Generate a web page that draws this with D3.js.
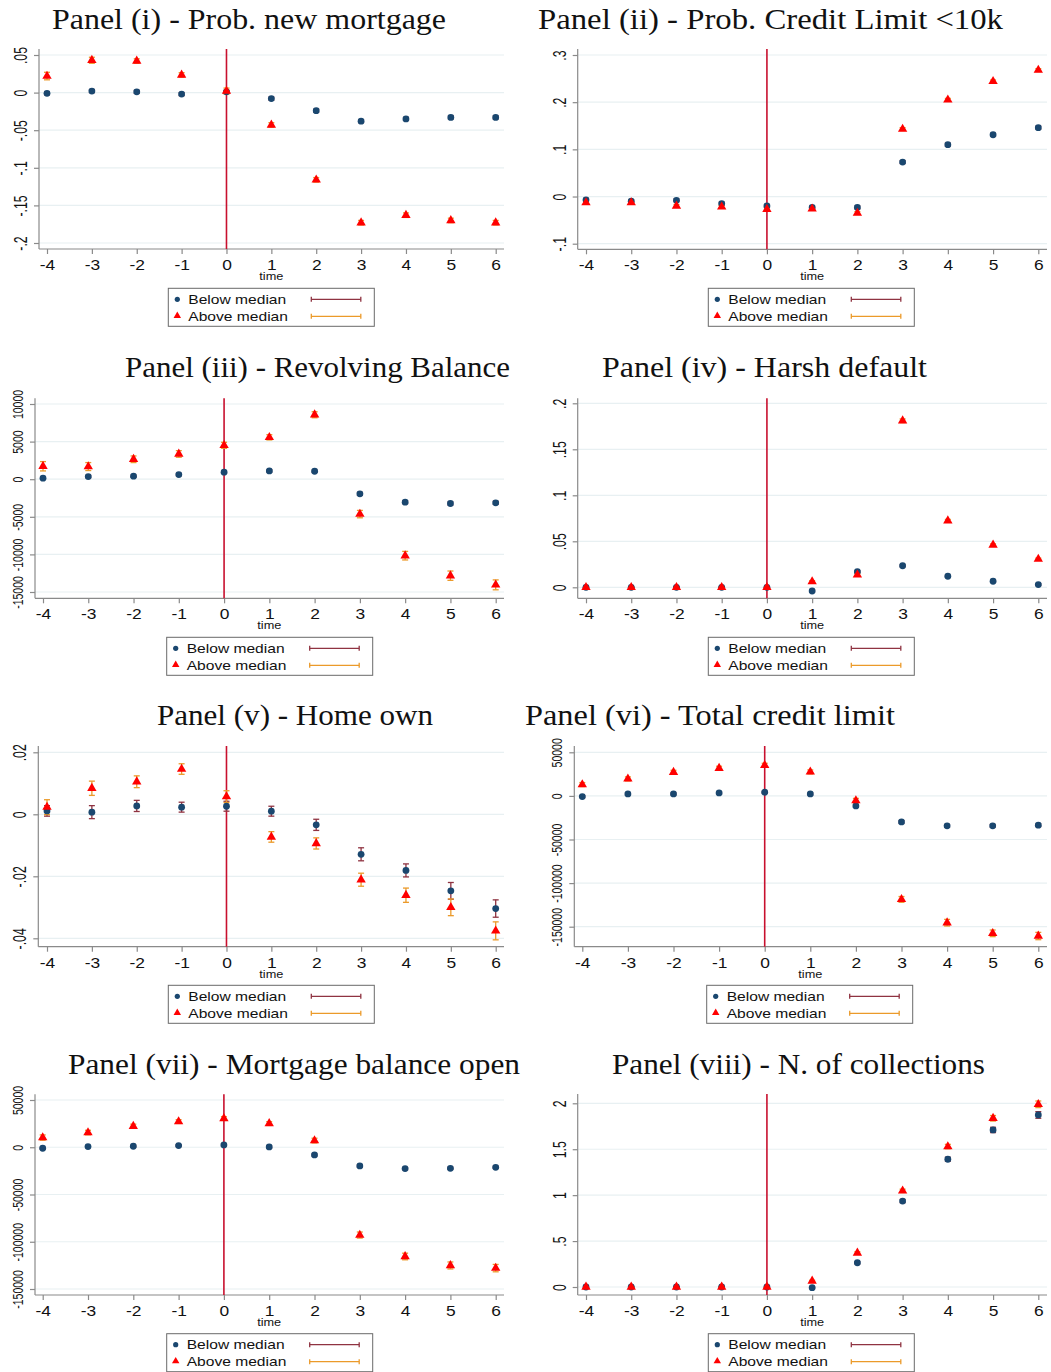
<!DOCTYPE html>
<html><head><meta charset="utf-8">
<script src="https://cdn.jsdelivr.net/npm/d3@7"></script>
<style>body{margin:0;background:#fff}svg{display:block}</style>
</head><body>
<svg id="chart" width="1051" height="1372"></svg>
<script>
// ---------------- DATA ----------------
const time = [-4,-3,-2,-1,0,1,2,3,4,5,6];
const seriesNames = ["Below median","Above median"];
const panelTitles = [
  "Panel (i) - Prob. new mortgage",
  "Panel (ii) - Prob. Credit Limit <10k",
  "Panel (iii) - Revolving Balance",
  "Panel (iv) - Harsh default",
  "Panel (v) - Home own",
  "Panel (vi) - Total credit limit",
  "Panel (vii) - Mortgage balance open",
  "Panel (viii) - N. of collections"
];
const xLabel = "time";

// Panel (i)
const p1Ticks = [-0.2,-0.15,-0.1,-0.05,0,0.05];
const p1TickLabels = ["-.2","-.15","-.1","-.05","0",".05"];
const p1Below   = [-0.001,0.002,0.001,-0.002,0.001,-0.008,-0.024,-0.038,-0.035,-0.033,-0.033];
const p1BelowCI = [0.002,0.002,0.002,0.002,0.002,0.002,0.002,0.002,0.002,0.002,0.002];
const p1Above   = [0.022,0.043,0.042,0.0235,0.002,-0.043,-0.116,-0.173,-0.163,-0.170,-0.173];
const p1AboveCI = [0.005,0.004,0.003,0.003,0.004,0.003,0.003,0.003,0.003,0.003,0.003];

// Panel (ii)
const p2Ticks = [-0.1,0,0.1,0.2,0.3];
const p2TickLabels = ["-.1","0",".1",".2",".3"];
const p2Below   = [-0.007,-0.010,-0.008,-0.015,-0.020,-0.023,-0.023,0.073,0.110,0.131,0.146];
const p2BelowCI = [0.003,0.003,0.003,0.003,0.003,0.003,0.003,0.003,0.003,0.003,0.003];
const p2Above   = [-0.013,-0.013,-0.020,-0.022,-0.027,-0.026,-0.035,0.143,0.205,0.244,0.268];
const p2AboveCI = [0.003,0.003,0.003,0.003,0.003,0.003,0.003,0.003,0.003,0.003,0.003];

// Panel (iii)
const p3Ticks = [-15000,-10000,-5000,0,5000,10000];
const p3TickLabels = ["-15000","-10000","-5000","0","5000","10000"];
const p3Below   = [130,350,400,620,930,1100,1060,-1950,-3050,-3230,-3140];
const p3BelowCI = [150,150,150,150,150,150,150,200,200,200,200];
const p3Above   = [1720,1680,2650,3360,4510,5570,8570,-4640,-10170,-12830,-14050];
const p3AboveCI = [620,530,440,440,400,350,400,490,570,620,660];

// Panel (iv)
const p4Ticks = [0,0.05,0.1,0.15,0.2];
const p4TickLabels = ["0",".05",".1",".15",".2"];
const p4Below   = [0,0,0,0,0,-0.004,0.017,0.0234,0.012,0.0066,0.003];
const p4BelowCI = [0.0005,0.0005,0.0005,0.0005,0.0005,0.001,0.001,0.001,0.001,0.001,0.001];
const p4Above   = [0,0,0,0,0,0.0062,0.0135,0.181,0.0723,0.046,0.0307];
const p4AboveCI = [0.0005,0.0005,0.0005,0.0005,0.0005,0.001,0.0012,0.002,0.0015,0.0012,0.001];

// Panel (v)
const p5Ticks = [-0.04,-0.02,0,0.02];
const p5TickLabels = ["-.04","-.02","0",".02"];
const p5Below   = [0.0011,0.0007,0.0027,0.0023,0.0026,0.0010,-0.0034,-0.0129,-0.0181,-0.0247,-0.0304];
const p5BelowCI = [0.0017,0.0021,0.0018,0.0016,0.0016,0.0016,0.0018,0.0021,0.0021,0.0027,0.0028];
const p5Above   = [0.0023,0.0084,0.0105,0.0146,0.0057,-0.0073,-0.0094,-0.0211,-0.0261,-0.0300,-0.0376];
const p5AboveCI = [0.0024,0.0023,0.0019,0.0017,0.0019,0.0017,0.0018,0.0021,0.0023,0.0027,0.0029];

// Panel (vi)
const p6Ticks = [-150000,-100000,-50000,0,50000];
const p6TickLabels = ["-150000","-100000","-50000","0","50000"];
const p6Below   = [-760,2300,2300,3400,4200,2300,-11450,-29800,-34350,-34350,-33600];
const p6BelowCI = [1100,1100,1100,1100,1100,1100,1300,1400,1500,1500,1500];
const p6Above   = [13000,19500,27100,31700,35100,27500,-5350,-118700,-145400,-157600,-160700];
const p6AboveCI = [2300,2300,2300,2300,2300,2300,2500,3300,3800,3800,4200];

// Panel (vii)
const p7Ticks = [-150000,-100000,-50000,0,50000];
const p7TickLabels = ["-150000","-100000","-50000","0","50000"];
const p7Below   = [-1060,700,1060,1770,2470,350,-8130,-19800,-22600,-22260,-21200];
const p7BelowCI = [1000,1000,1000,1000,1000,1000,1000,1100,1200,1200,1200];
const p7Above   = [10250,15550,22260,27200,30400,25100,7070,-92900,-115600,-125100,-127900];
const p7AboveCI = [2800,2400,2200,2000,2000,2000,2500,3200,3500,3700,3900];

// Panel (viii)
const p8Ticks = [0,0.5,1,1.5,2];
const p8TickLabels = ["0",".5","1","1.5","2"];
const p8Below   = [0,0,0,0,0,-0.007,0.264,0.935,1.391,1.710,1.873];
const p8BelowCI = [0.003,0.003,0.003,0.003,0.003,0.006,0.012,0.017,0.022,0.029,0.036];
const p8Above   = [0,0,0,0,0,0.065,0.370,1.047,1.529,1.837,1.989];
const p8AboveCI = [0.003,0.003,0.003,0.003,0.003,0.008,0.014,0.018,0.024,0.030,0.036];

// ---------------- LAYOUT ----------------
// ys: [along-text scale, glyph-height scale] for rotated y tick labels
const layout = [
  {axisX:39,   x0:47,    x1:495.7,  right:504,  t0px:243,   t1px:55,    top:49,    bottom:249,   tcx:249,   tw:394, tb:29,   lx:168.3, ly:288.3, ys:[0.88,1.28]},
  {axisX:577.7,x0:586,   x1:1038.3, right:1047, t0px:243.7, t1px:55,    top:49,    bottom:249.3, tcx:770.5, tw:465, tb:29,   lx:708.3, ly:288.3, ys:[0.88,1.28]},
  {axisX:35,   x0:43,    x1:495.7,  right:504,  t0px:592,   t1px:404,   top:398.3, bottom:598.3, tcx:317.5, tw:385, tb:377,  lx:166.7, ly:637.3, ys:[0.75,1.08]},
  {axisX:577.7,x0:586,   x1:1038.3, right:1047, t0px:587.3, t1px:403.3, top:398.3, bottom:598.3, tcx:764.5, tw:325, tb:377,  lx:708.3, ly:637.3, ys:[0.88,1.28]},
  {axisX:38.3, x0:47,    x1:495.7,  right:504,  t0px:938.3, t1px:752.3, top:746,   bottom:946.7, tcx:295,   tw:276, tb:725,  lx:168.3, ly:985.3, ys:[0.88,1.28]},
  {axisX:574.3,x0:582.3, x1:1038.3, right:1047, t0px:926.7, t1px:752.3, top:746,   bottom:946.7, tcx:710,   tw:370, tb:725,  lx:706.7, ly:985.3, ys:[0.75,1.08]},
  {axisX:35,   x0:42.7,  x1:495.7,  right:504,  t0px:1289,  t1px:1100,  top:1094.3,bottom:1295,  tcx:294,   tw:452, tb:1074, lx:166.7, ly:1333.7, ys:[0.75,1.08]},
  {axisX:577.7,x0:586,   x1:1038.3, right:1047, t0px:1287,  t1px:1103.3,top:1094,  bottom:1295,  tcx:798.5, tw:373, tb:1074, lx:708.3, ly:1333.7, ys:[0.88,1.28]}
];

const panels = [
  {ticks:p1Ticks, labels:p1TickLabels, below:p1Below, belowCI:p1BelowCI, above:p1Above, aboveCI:p1AboveCI},
  {ticks:p2Ticks, labels:p2TickLabels, below:p2Below, belowCI:p2BelowCI, above:p2Above, aboveCI:p2AboveCI},
  {ticks:p3Ticks, labels:p3TickLabels, below:p3Below, belowCI:p3BelowCI, above:p3Above, aboveCI:p3AboveCI},
  {ticks:p4Ticks, labels:p4TickLabels, below:p4Below, belowCI:p4BelowCI, above:p4Above, aboveCI:p4AboveCI},
  {ticks:p5Ticks, labels:p5TickLabels, below:p5Below, belowCI:p5BelowCI, above:p5Above, aboveCI:p5AboveCI},
  {ticks:p6Ticks, labels:p6TickLabels, below:p6Below, belowCI:p6BelowCI, above:p6Above, aboveCI:p6AboveCI},
  {ticks:p7Ticks, labels:p7TickLabels, below:p7Below, belowCI:p7BelowCI, above:p7Above, aboveCI:p7AboveCI},
  {ticks:p8Ticks, labels:p8TickLabels, below:p8Below, belowCI:p8BelowCI, above:p8Above, aboveCI:p8AboveCI}
];

const C = {
  navy:"#1a476f", red:"#ff0000", maroon:"#8f3341", orange:"#eb9a2a",
  vline:"#c8102e", grid:"#e8f0f2", axis:"#8a8a8a", text:"#111"
};
const SANS = "'Liberation Sans', Arial, sans-serif";
const SERIF = "'Liberation Serif', 'Times New Roman', serif";

const svg = d3.select("#chart");
const tri = d3.symbol().type(d3.symbolTriangle).size(38);

panels.forEach((p, k) => {
  const L = layout[k];
  const g = svg.append("g");
  const x = d3.scaleLinear().domain([time[0], time[time.length-1]]).range([L.x0, L.x1]);
  const y = d3.scaleLinear().domain([p.ticks[0], p.ticks[p.ticks.length-1]]).range([L.t0px, L.t1px]);

  // title
  g.append("text").attr("x", L.tcx).attr("y", L.tb).attr("text-anchor","middle")
    .attr("font-family", SERIF).attr("font-size", 29).attr("fill", C.text)
    .attr("textLength", L.tw).attr("lengthAdjust","spacingAndGlyphs")
    .text(panelTitles[k]);

  // grid
  g.append("g").selectAll("line").data(p.ticks).join("line")
    .attr("x1", L.axisX).attr("x2", L.right)
    .attr("y1", d => y(d)).attr("y2", d => y(d))
    .attr("stroke", C.grid).attr("stroke-width", 1.2);

  // axes lines
  g.append("line").attr("x1", L.axisX).attr("x2", L.axisX).attr("y1", L.top).attr("y2", L.bottom)
    .attr("stroke", C.axis).attr("stroke-width", 1.2);
  g.append("line").attr("x1", L.axisX).attr("x2", L.right).attr("y1", L.bottom).attr("y2", L.bottom)
    .attr("stroke", C.axis).attr("stroke-width", 1.2);

  // y axis
  const ya = g.append("g").attr("transform", `translate(${L.axisX},0)`)
    .call(d3.axisLeft(y).tickValues(p.ticks).tickFormat((d,i) => p.labels[i]).tickSize(5).tickSizeOuter(0));
  ya.select(".domain").remove();
  ya.selectAll(".tick line").attr("stroke", C.axis).attr("stroke-width", 1.2);
  ya.selectAll(".tick text")
    .attr("x", null).attr("dy", null).attr("y", null)
    .attr("text-anchor","middle")
    .attr("transform", `translate(-12,0) rotate(-90) scale(${L.ys[0]},${L.ys[1]})`)
    .attr("font-family", SANS).attr("font-size", 14).attr("fill", C.text);

  // x axis
  const xa = g.append("g").attr("transform", `translate(0,${L.bottom})`)
    .call(d3.axisBottom(x).tickValues(time).tickFormat(d3.format("d")).tickSize(5).tickSizeOuter(0));
  xa.select(".domain").remove();
  xa.selectAll(".tick line").attr("stroke", C.axis).attr("stroke-width", 1.2);
  xa.selectAll(".tick text")
    .attr("y", null).attr("dy", null)
    .attr("transform", "translate(0,21) scale(1.2,1)")
    .attr("font-family", SANS).attr("font-size", 14.5).attr("fill", C.text)
    .text(d => d < 0 ? "-" + Math.abs(d) : String(d));

  g.append("text").attr("x", (L.x0 + L.x1)/2).attr("y", L.bottom + 31)
    .attr("text-anchor","middle").attr("font-family", SANS).attr("font-size", 11).attr("fill", C.text)
    .attr("textLength", 24).attr("lengthAdjust","spacingAndGlyphs")
    .text(xLabel);

  // vertical reference line at time 0
  g.append("line").attr("x1", x(0)).attr("x2", x(0)).attr("y1", L.top).attr("y2", L.bottom)
    .attr("stroke", C.vline).attr("stroke-width", 1.6);

  // error bars
  const cap = 3;
  function bars(vals, ci, color) {
    const gb = g.append("g").attr("stroke", color).attr("stroke-width", 1.3).attr("fill","none");
    time.forEach((t, i) => {
      const yl = y(vals[i] - ci[i]), yh = y(vals[i] + ci[i]), cx = x(t);
      gb.append("line").attr("x1", cx).attr("x2", cx).attr("y1", yl).attr("y2", yh);
      gb.append("line").attr("x1", cx-cap).attr("x2", cx+cap).attr("y1", yl).attr("y2", yl);
      gb.append("line").attr("x1", cx-cap).attr("x2", cx+cap).attr("y1", yh).attr("y2", yh);
    });
  }
  bars(p.below, p.belowCI, C.maroon);
  bars(p.above, p.aboveCI, C.orange);

  // markers
  g.append("g").selectAll("circle").data(time).join("circle")
    .attr("cx", d => x(d)).attr("cy", (d,i) => y(p.below[i])).attr("r", 3.4)
    .attr("fill", C.navy);
  g.append("g").selectAll("path").data(time).join("path")
    .attr("d", tri)
    .attr("transform", (d,i) => `translate(${x(d)},${y(p.above[i])})`)
    .attr("fill", C.red);

  // legend
  const lg = g.append("g").attr("transform", `translate(${L.lx},${L.ly})`);
  lg.append("rect").attr("x",0).attr("y",0).attr("width",206).attr("height",38)
    .attr("fill","#fff").attr("stroke","#6a6a6a").attr("stroke-width",1);
  const rows = [11, 28];
  lg.append("circle").attr("cx", 9).attr("cy", rows[0]).attr("r", 2.6).attr("fill", C.navy);
  lg.append("path").attr("d", d3.symbol().type(d3.symbolTriangle).size(24)).attr("transform", `translate(9,${rows[1]-0.5})`).attr("fill", C.red);
  seriesNames.forEach((s, i) => {
    lg.append("text").attr("x", 0).attr("y", 0)
      .attr("transform", `translate(20,${rows[i]+4.6}) scale(1.2,1)`)
      .attr("font-family", SANS).attr("font-size", 13).attr("fill", C.text).text(s);
  });
  [[C.maroon, rows[0]], [C.orange, rows[1]]].forEach(([col, yy]) => {
    lg.append("line").attr("x1", 143).attr("x2", 192.5).attr("y1", yy).attr("y2", yy).attr("stroke", col).attr("stroke-width", 1.3);
    lg.append("line").attr("x1", 143).attr("x2", 143).attr("y1", yy-2.5).attr("y2", yy+2.5).attr("stroke", col).attr("stroke-width", 1.3);
    lg.append("line").attr("x1", 192.5).attr("x2", 192.5).attr("y1", yy-2.5).attr("y2", yy+2.5).attr("stroke", col).attr("stroke-width", 1.3);
  });
});
</script>
</body></html>
